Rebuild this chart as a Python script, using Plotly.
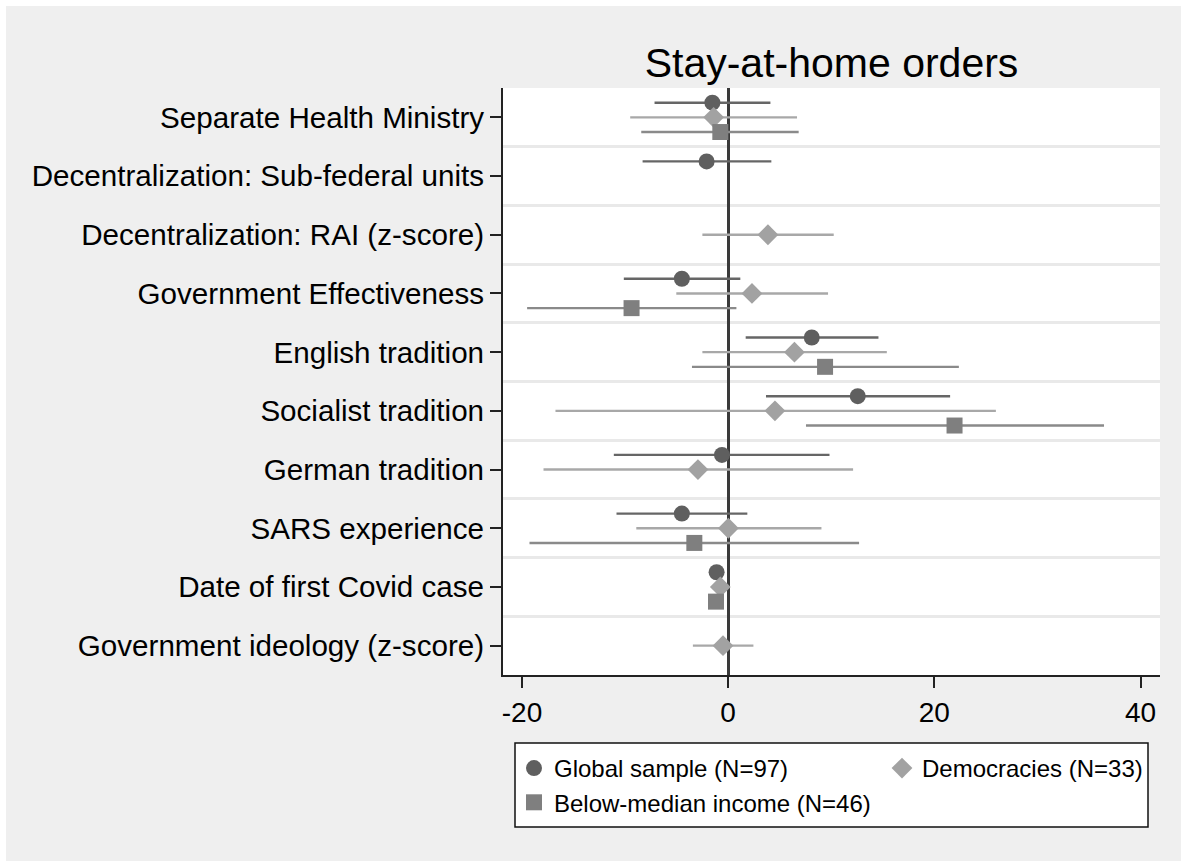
import plotly.graph_objects as go

# Row labels (top to bottom)
labels = [
    "Separate Health Ministry",
    "Decentralization: Sub-federal units",
    "Decentralization: RAI (z-score)",
    "Government Effectiveness",
    "English tradition",
    "Socialist tradition",
    "German tradition",
    "SARS experience",
    "Date of first Covid case",
    "Government ideology (z-score)",
]

# Coefficients with lower / upper confidence bounds (None = not estimated)
global_coef = [-1.53, -2.09, None, -4.49, 8.11, 12.57, -0.60, -4.49, -1.12, None]
global_lo = [-7.14, -8.30, None, -10.12, 1.70, 3.67, -11.09, -10.83, -1.40, None]
global_hi = [4.10, 4.19, None, 1.18, 14.58, 21.53, 9.83, 1.86, -0.84, None]

demo_coef = [-1.41, None, 3.86, 2.31, 6.43, 4.54, -2.93, 0.02, -0.76, -0.50]
demo_lo = [-9.50, None, -2.50, -5.03, -2.50, -16.75, -17.91, -8.91, -1.05, -3.42]
demo_hi = [6.68, None, 10.24, 9.69, 15.39, 25.97, 12.12, 9.05, -0.47, 2.45]

low_coef = [-0.76, None, None, -9.37, 9.40, 21.96, None, -3.28, -1.18, None]
low_lo = [-8.43, None, None, -19.50, -3.51, 7.55, None, -19.27, -1.50, None]
low_hi = [6.84, None, None, 0.80, 22.38, 36.46, None, 12.70, -0.86, None]

series_names = ["Global sample (N=97)", "Democracies (N=33)", "Below-median income (N=46)"]
x_ticks = [-20, 0, 20, 40]

FONT = "Liberation Sans, Arial, sans-serif"

# Figure geometry (pixels)
W, H = 1181, 861
ML, MR, MT, MB = 503, 21, 88, 186
PW, PH = W - ML - MR, H - MT - MB


def px_x(px):
    return (px - ML) / PW


def px_y(py):
    return (H - MB - py) / PH


def make_trace(name, coef, lo, hi, offset, symbol, mcolor, ecolor, size, legend):
    ys, xs, plus, minus = [], [], [], []
    for i, c in enumerate(coef):
        if c is None:
            continue
        ys.append(i + offset)
        xs.append(c)
        plus.append(hi[i] - c)
        minus.append(c - lo[i])
    return go.Scatter(
        x=xs, y=ys, mode="markers", name=name, legend=legend,
        marker=dict(symbol=symbol, size=size, color=mcolor, line=dict(width=0)),
        error_x=dict(type="data", symmetric=False, array=plus, arrayminus=minus,
                     color=ecolor, thickness=2.4, width=0),
        hoverinfo="x+y",
    )


fig = go.Figure()
fig.add_trace(make_trace(series_names[0], global_coef, global_lo, global_hi, -0.25,
                         "circle", "#5f5f5f", "#666666", 16, "legend"))
fig.add_trace(make_trace(series_names[1], demo_coef, demo_lo, demo_hi, 0.0,
                         "diamond", "#a2a2a2", "#a8a8a8", 16, "legend2"))
fig.add_trace(make_trace(series_names[2], low_coef, low_lo, low_hi, 0.25,
                         "square", "#7f7f7f", "#8a8a8a", 16, "legend"))

shapes = [
    # white page edges around the grey chart background
    dict(type="rect", xref="paper", yref="paper", x0=px_x(-10), x1=px_x(W + 10),
         y0=px_y(6), y1=px_y(-10), fillcolor="white", line=dict(width=0), layer="below"),
    dict(type="rect", xref="paper", yref="paper", x0=px_x(-10), x1=px_x(6),
         y0=px_y(H + 10), y1=px_y(-10), fillcolor="white", line=dict(width=0), layer="below"),
    # legend frame
    dict(type="rect", xref="paper", yref="paper", x0=px_x(515), x1=px_x(1148),
         y0=px_y(827), y1=px_y(743), fillcolor="white",
         line=dict(color="#111111", width=1.5), layer="below"),
]

legend_common = dict(
    bgcolor="rgba(0,0,0,0)", borderwidth=0, orientation="v",
    font=dict(family=FONT, size=24, color="#000000"),
    xanchor="left", yanchor="top",
)

fig.update_layout(
    template="none",
    width=W, height=H,
    margin=dict(l=ML, r=MR, t=MT, b=MB, pad=0),
    paper_bgcolor="#efefef",
    plot_bgcolor="#ffffff",
    font=dict(family=FONT, color="#000000"),
    title=dict(text="Stay-at-home orders", x=0.5, xref="paper", xanchor="center",
               y=1, yref="paper", yanchor="bottom", pad=dict(b=11, t=0, l=0, r=0),
               font=dict(family=FONT, size=41, color="#000000")),
    showlegend=True,
    legend=dict(x=px_x(514), y=px_y(746), **legend_common),
    legend2=dict(x=px_x(882), y=px_y(746), **legend_common),
    shapes=shapes,
    xaxis=dict(
        range=[-21.84, 41.89], tickmode="array", tickvals=x_ticks,
        ticktext=[str(v) for v in x_ticks],
        showgrid=False, zeroline=True, zerolinecolor="#3a3a3a", zerolinewidth=2.5,
        showline=True, linecolor="#222222", linewidth=2,
        ticks="outside", ticklen=11, tickwidth=2, tickcolor="#222222",
        tickfont=dict(family=FONT, size=28, color="#000000"),
        automargin=False,
    ),
    yaxis=dict(
        range=[9.5, -0.5], tickmode="array", tickvals=list(range(len(labels))),
        ticktext=labels, showgrid=False, zeroline=False,
        showline=True, linecolor="#222222", linewidth=2,
        ticks="outside", ticklen=11, tickwidth=2, tickcolor="#222222",
        tickfont=dict(family=FONT, size=29.6, color="#000000"),
        minor=dict(tickmode="linear", tick0=0.5, dtick=1, showgrid=True,
                   gridcolor="#e9e9e9", gridwidth=2.5, ticks=""),
        automargin=False,
    ),
)

fig.write_html("out.html")
